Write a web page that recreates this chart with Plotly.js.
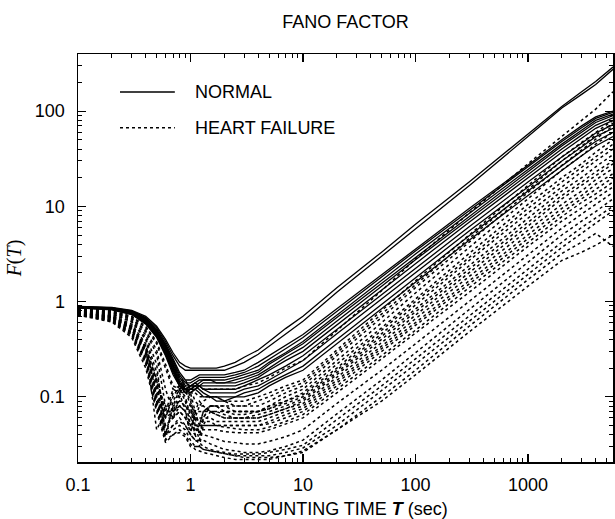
<!DOCTYPE html>
<html>
<head>
<meta charset="utf-8">
<script src="https://cdn.plot.ly/plotly-3.0.1.min.js"></script>
<style>html,body{margin:0;padding:0;background:#fff;}#chart{width:615px;height:519px;}</style>
</head>
<body>
<div id="chart"></div>
<script>
// Counting time T (sec)
const T = [0.1,0.2,0.3,0.4,0.5,0.6,0.7,0.8,0.9,1.0,1.1,1.2,1.3,1.5,1.7,2,2.5,3,4,5,7,10,20,50,100,300,1000,2000,3000,4000,5700];

// NORMAL subjects (solid)
const normal01 = [0.89,0.87,0.81,0.70,0.55,0.40,0.29,0.23,0.21,0.20,0.20,0.20,0.20,0.20,0.20,0.21,0.23,0.26,0.31,0.38,0.52,0.70,1.4,3.3,6.5,18,58,112,160,205,290];
const normal02 = [0.89,0.86,0.80,0.68,0.53,0.38,0.27,0.21,0.19,0.19,0.19,0.19,0.19,0.19,0.19,0.19,0.21,0.23,0.28,0.34,0.46,0.62,1.25,3.0,5.9,16.5,54,108,150,190,275];
const normal03 = [0.88,0.86,0.79,0.67,0.51,0.36,0.25,0.18,0.15,0.15,0.16,0.17,0.17,0.17,0.17,0.17,0.18,0.19,0.23,0.27,0.35,0.45,0.84,1.9,3.6,9.5,27,50,70,87,100];
const normal04 = [0.88,0.85,0.78,0.66,0.50,0.35,0.24,0.17,0.14,0.14,0.15,0.16,0.16,0.16,0.16,0.16,0.17,0.18,0.21,0.25,0.32,0.42,0.79,1.8,3.4,9.0,26,48,67,84,97];
const normal05 = [0.88,0.85,0.78,0.65,0.49,0.34,0.23,0.16,0.13,0.13,0.14,0.15,0.15,0.15,0.15,0.15,0.16,0.17,0.19,0.23,0.29,0.38,0.72,1.65,3.15,8.4,24.5,45,63,80,93];
const normal06 = [0.87,0.85,0.77,0.64,0.48,0.33,0.22,0.15,0.12,0.12,0.13,0.14,0.15,0.15,0.14,0.14,0.15,0.16,0.18,0.22,0.28,0.36,0.68,1.55,2.95,7.9,23,43,60,76,90];
const normal07 = [0.87,0.84,0.76,0.63,0.47,0.32,0.21,0.14,0.12,0.11,0.12,0.13,0.14,0.14,0.14,0.14,0.14,0.15,0.17,0.20,0.26,0.33,0.63,1.45,2.75,7.4,21.5,40,56,71,85];
const normal08 = [0.87,0.84,0.76,0.62,0.46,0.31,0.20,0.14,0.11,0.11,0.12,0.13,0.13,0.13,0.13,0.13,0.13,0.14,0.16,0.19,0.24,0.30,0.57,1.32,2.5,6.8,20,37,52,66,80];
const normal09 = [0.87,0.84,0.75,0.61,0.45,0.30,0.19,0.13,0.11,0.12,0.13,0.13,0.12,0.12,0.12,0.12,0.12,0.13,0.15,0.17,0.21,0.27,0.51,1.18,2.25,6.1,18,33,46,59,72];
const normal10 = [0.86,0.83,0.75,0.60,0.44,0.29,0.19,0.14,0.12,0.13,0.14,0.13,0.12,0.11,0.11,0.11,0.11,0.12,0.13,0.15,0.19,0.24,0.46,1.06,2.0,5.5,16,30,42,54,66];
const normal11 = [0.86,0.83,0.74,0.59,0.43,0.28,0.18,0.13,0.12,0.13,0.13,0.12,0.11,0.10,0.10,0.10,0.10,0.11,0.12,0.14,0.17,0.21,0.40,0.93,1.78,4.9,14.5,27,38,48,60];
const normal12 = [0.86,0.82,0.73,0.58,0.42,0.27,0.17,0.13,0.12,0.12,0.12,0.11,0.10,0.10,0.09,0.09,0.10,0.10,0.11,0.13,0.16,0.19,0.36,0.84,1.6,4.4,13,24,34,43,54];

// HEART FAILURE subjects (dotted)
const hf01 = [0.85,0.82,0.74,0.60,0.44,0.30,0.21,0.16,0.14,0.13,0.13,0.13,0.12,0.12,0.12,0.12,0.12,0.13,0.14,0.16,0.20,0.24,0.50,1.3,2.8,8.5,28,55,80,105,160];
const hf02 = [0.84,0.80,0.70,0.55,0.38,0.22,0.13,0.12,0.14,0.13,0.11,0.10,0.10,0.10,0.10,0.09,0.09,0.09,0.10,0.11,0.13,0.15,0.31,0.8,1.65,5.0,16.5,33,47,60,80];
const hf03 = [0.83,0.79,0.69,0.53,0.36,0.20,0.12,0.13,0.15,0.12,0.09,0.08,0.09,0.10,0.10,0.09,0.08,0.08,0.09,0.10,0.12,0.14,0.29,0.74,1.5,4.6,15,30,43,56,75];
const hf04 = [0.82,0.78,0.67,0.50,0.31,0.12,0.07,0.11,0.13,0.11,0.07,0.05,0.07,0.08,0.08,0.08,0.08,0.08,0.08,0.09,0.11,0.13,0.27,0.68,1.4,4.2,14,27,39,51,70];
const hf05 = [0.82,0.77,0.66,0.48,0.28,0.08,0.06,0.10,0.12,0.09,0.06,0.04,0.06,0.08,0.08,0.07,0.07,0.07,0.07,0.08,0.10,0.12,0.24,0.6,1.23,3.7,12,24,34,45,60];
const hf06 = [0.81,0.76,0.64,0.45,0.22,0.04,0.08,0.12,0.13,0.10,0.05,0.035,0.06,0.08,0.08,0.08,0.07,0.07,0.07,0.08,0.09,0.11,0.22,0.53,1.07,3.2,10.5,20,28,37,50];
const hf07 = [0.80,0.74,0.62,0.42,0.18,0.06,0.10,0.13,0.12,0.08,0.04,0.05,0.07,0.08,0.08,0.07,0.07,0.07,0.07,0.075,0.09,0.105,0.20,0.5,1.0,2.9,9.5,18,26,33,45];
const hf08 = [0.80,0.74,0.61,0.40,0.15,0.035,0.09,0.12,0.10,0.06,0.04,0.03,0.05,0.07,0.07,0.07,0.065,0.065,0.07,0.075,0.085,0.10,0.19,0.46,0.92,2.7,8.5,16,23,30,40];
const hf09 = [0.79,0.72,0.58,0.36,0.10,0.06,0.11,0.12,0.09,0.05,0.06,0.08,0.08,0.07,0.07,0.065,0.06,0.06,0.065,0.07,0.08,0.095,0.18,0.43,0.85,2.4,7.5,14.5,20,26,35];
const hf10 = [0.78,0.71,0.56,0.33,0.045,0.07,0.12,0.11,0.07,0.04,0.07,0.09,0.08,0.07,0.065,0.06,0.06,0.06,0.06,0.065,0.075,0.09,0.17,0.40,0.78,2.2,6.8,13,18,23,30];
const hf11 = [0.78,0.70,0.55,0.34,0.15,0.07,0.07,0.09,0.09,0.08,0.07,0.07,0.07,0.07,0.065,0.06,0.06,0.06,0.06,0.065,0.075,0.085,0.16,0.37,0.72,2.0,6.2,12,16.5,21,28];
const hf12 = [0.77,0.70,0.54,0.32,0.14,0.08,0.08,0.09,0.08,0.07,0.06,0.06,0.06,0.06,0.055,0.055,0.055,0.055,0.055,0.06,0.07,0.08,0.15,0.34,0.66,1.85,5.6,10.5,14.5,19,25];
const hf13 = [0.77,0.69,0.53,0.31,0.13,0.07,0.07,0.08,0.08,0.07,0.06,0.055,0.055,0.055,0.05,0.05,0.05,0.05,0.05,0.055,0.065,0.075,0.14,0.32,0.60,1.65,5.0,9.5,13,17,22];
const hf14 = [0.76,0.68,0.52,0.30,0.12,0.06,0.06,0.08,0.07,0.06,0.05,0.05,0.05,0.05,0.05,0.05,0.05,0.05,0.05,0.052,0.06,0.07,0.13,0.30,0.56,1.55,4.6,8.6,12,15,20];
const hf15 = [0.76,0.68,0.51,0.29,0.11,0.06,0.07,0.08,0.07,0.05,0.045,0.05,0.05,0.05,0.05,0.048,0.046,0.045,0.045,0.048,0.055,0.065,0.12,0.27,0.50,1.4,4.2,7.8,11,13.5,18];
const hf16 = [0.75,0.67,0.50,0.28,0.10,0.05,0.06,0.07,0.06,0.05,0.045,0.045,0.045,0.045,0.045,0.043,0.042,0.042,0.042,0.045,0.052,0.06,0.11,0.25,0.46,1.25,3.8,7,9.6,12,16];
const hf17 = [0.75,0.66,0.48,0.26,0.09,0.05,0.06,0.07,0.06,0.045,0.04,0.04,0.04,0.038,0.036,0.034,0.033,0.032,0.032,0.034,0.038,0.045,0.085,0.19,0.36,1.0,3.1,5.9,8.3,10.5,14];
const hf18 = [0.74,0.65,0.47,0.25,0.09,0.045,0.05,0.06,0.05,0.04,0.035,0.035,0.035,0.032,0.03,0.028,0.027,0.026,0.026,0.027,0.03,0.035,0.066,0.15,0.29,0.82,2.6,5.0,7.0,8.8,12];
const hf19 = [0.74,0.64,0.46,0.24,0.085,0.04,0.05,0.055,0.05,0.04,0.035,0.033,0.03,0.028,0.027,0.026,0.025,0.025,0.025,0.026,0.028,0.031,0.057,0.13,0.25,0.70,2.2,4.2,6.0,7.6,10];
const hf20 = [0.73,0.63,0.45,0.23,0.08,0.04,0.045,0.05,0.045,0.035,0.03,0.03,0.028,0.027,0.026,0.025,0.024,0.024,0.024,0.024,0.026,0.029,0.05,0.115,0.22,0.62,1.9,3.7,5.2,6.6,9];
const hf21 = [0.73,0.62,0.44,0.22,0.075,0.035,0.04,0.045,0.04,0.032,0.028,0.027,0.026,0.025,0.024,0.023,0.022,0.022,0.022,0.022,0.024,0.027,0.045,0.09,0.17,0.48,1.45,2.7,3.3,3.9,5];
const hf22 = [0.72,0.61,0.42,0.20,0.07,0.033,0.04,0.042,0.038,0.03,0.03,0.03,0.028,0.027,0.026,0.025,0.024,0.023,0.023,0.023,0.024,0.026,0.045,0.10,0.19,0.55,1.7,3.2,4.2,5.2,3.8];

// Tick labels
const xTickVals = [0.1, 1, 10, 100, 1000];
const xTickText = ['0.1', '1', '10', '100', '1000'];
const yTickVals = [0.1, 1, 10, 100];
const yTickText = ['0.1', '1', '10', '100'];

const normalSeries = [normal01,normal02,normal03,normal04,normal05,normal06,normal07,normal08,normal09,normal10,normal11,normal12];
const hfSeries = [hf01,hf02,hf03,hf04,hf05,hf06,hf07,hf08,hf09,hf10,hf11,hf12,hf13,hf14,hf15,hf16,hf17,hf18,hf19,hf20,hf21,hf22];

const traces = [];
hfSeries.forEach(function(s){
  traces.push({x:T, y:s, type:'scatter', mode:'lines', showlegend:false, hoverinfo:'skip',
    line:{color:'#000', width:1.5, dash:'3px,3px'}});
});
normalSeries.forEach(function(s){
  traces.push({x:T, y:s, type:'scatter', mode:'lines', showlegend:false, hoverinfo:'skip',
    line:{color:'#000', width:1.3}});
});

function minors(lo, hi){
  const out = [];
  for (let e = lo; e <= hi; e++) {
    for (let m = 2; m <= 9; m++) out.push(m * Math.pow(10, e));
  }
  return out;
}

const sans = '"Liberation Sans", Arial, Helvetica, sans-serif';
const serif = '"Liberation Serif","Times New Roman",serif';
const tickFont = {family:sans, size:18, color:'#000'};

const layout = {
  width:615, height:519,
  margin:{l:78, r:2, t:54, b:57},
  paper_bgcolor:'#fff', plot_bgcolor:'#fff',
  showlegend:false,
  title:{text:'FANO FACTOR', font:{family:sans, size:18, color:'#000'},
    x:0.5, xref:'paper', y:1-22/519, yref:'container', yanchor:'middle'},
  xaxis:{type:'log', range:[-1, 3.756], showgrid:false, zeroline:false,
    showline:true, linecolor:'#000', linewidth:1.5, mirror:'ticks',
    ticks:'inside', ticklen:8, tickwidth:1.2, tickcolor:'#000',
    tickmode:'array', tickvals:xTickVals, ticktext:xTickText, tickfont:tickFont,
    ticklabelstandoff:6,
    minor:{ticks:'inside', ticklen:4, tickwidth:1, tickcolor:'#000', tickmode:'array', tickvals:minors(-1,3), showgrid:false},
    title:{text:'COUNTING TIME <span style="font-family:'+serif+'"><b><i>T</i></b></span> (sec)', font:{family:sans, size:18, color:'#000'}, standoff:8}
  },
  yaxis:{type:'log', range:[-1.685, 2.6], showgrid:false, zeroline:false,
    showline:true, linecolor:'#000', linewidth:1.5, mirror:'ticks',
    ticks:'inside', ticklen:8, tickwidth:1.2, tickcolor:'#000',
    tickmode:'array', tickvals:yTickVals, ticktext:yTickText, tickfont:tickFont,
    ticklabelstandoff:8,
    minor:{ticks:'inside', ticklen:4, tickwidth:1, tickcolor:'#000', tickmode:'array', tickvals:minors(-2,2), showgrid:false},
    title:{text:'<i>F</i>(<i>T</i>)', font:{family:serif, size:20, color:'#000'}, standoff:8}
  },
  shapes:[
    {type:'line', xref:'paper', yref:'paper', x0:0.0785, x1:0.181, y0:0.907, y1:0.907, line:{color:'#000', width:1.5}},
    {type:'line', xref:'paper', yref:'paper', x0:0.0785, x1:0.181, y0:0.819, y1:0.819, line:{color:'#000', width:1.5, dash:'3px,3px'}}
  ],
  annotations:[
    {text:'NORMAL', xref:'paper', yref:'paper', x:0.215, y:0.907, xanchor:'left', yanchor:'middle', showarrow:false, font:{family:sans, size:18, color:'#000'}},
    {text:'HEART FAILURE', xref:'paper', yref:'paper', x:0.215, y:0.819, xanchor:'left', yanchor:'middle', showarrow:false, font:{family:sans, size:18, color:'#000'}}
  ]
};

Plotly.newPlot('chart', traces, layout, {staticPlot:true, displayModeBar:false});
</script>
</body>
</html>
